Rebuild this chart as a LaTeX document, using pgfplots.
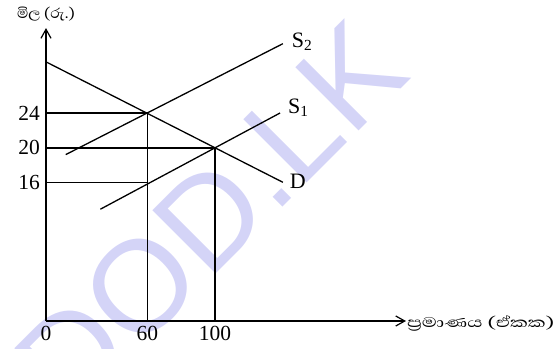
\documentclass[border=0pt]{standalone}
\usepackage{fontspec}
\setmainfont{Liberation Serif}
\newfontfamily\sinhala[Script=Sinhala]{Abhaya Libre}
\newfontfamily\wmfont{Liberation Sans}
\usepackage{pgfplots}
\pgfplotsset{compat=1.18}
\usetikzlibrary{arrows.meta}
\definecolor{wmblue}{RGB}{212,212,247}
\begin{document}
\begin{tikzpicture}
  % watermark behind everything
  \node[anchor=base west, rotate=45, inner sep=0pt, text=wmblue,
        font=\wmfont\fontsize{130bp}{130bp}\selectfont] at (24bp,-99bp) {DOD.LK};
  \begin{axis}[
      at={(0,0)}, anchor=origin,
      x=1.69bp, y=8.667bp,
      xmin=0, xmax=213,
      ymin=0, ymax=33.8,
      axis lines=left,
      axis line style={line width=1.2bp},
      every outer x axis line/.append style={-{Straight Barb[length=9bp,width=10bp,line width=1.2bp]}},
      every outer y axis line/.append style={-{Straight Barb[length=9bp,width=10bp,line width=1.2bp]}},
      xtick={0,60,100}, ytick={16,20,24},
      major tick length=0pt,
      /pgf/number format/assume math mode=true,
      tick label style={font=\fontsize{21.5bp}{24bp}\selectfont},
      xticklabel style={inner sep=0pt, yshift=-5bp},
      yticklabel style={inner sep=0pt, xshift=-6bp},
      clip=false,
    ]
    % guide lines
    \addplot[black, line width=1.2bp] coordinates {(0,24) (60,24)};
    \addplot[black, line width=1.2bp] coordinates {(60,0) (60,24)};
    \addplot[black, line width=1.2bp] coordinates {(0,16) (60,16)};
    \addplot[black, line width=1.8bp] coordinates {(0,20) (100,20)};
    \addplot[black, line width=1.8bp] coordinates {(100,0) (100,20)};
    % demand
    \addplot[black, line width=1.3bp] coordinates {(0,29.9) (140.2,16.0)}
      node[pos=1, anchor=west, xshift=3bp, yshift=1bp, font=\fontsize{22bp}{24bp}\selectfont] {D};
    % supply S1
    \addplot[black, line width=1.3bp] coordinates {(32.2,12.9) (138.5,24.0)}
      node[pos=1, anchor=west, xshift=4bp, yshift=5bp, font=\fontsize{22bp}{24bp}\selectfont] {S\textsubscript{1}};
    % supply S2
    \addplot[black, line width=1.3bp] coordinates {(11.7,19.2) (140.2,32.0)}
      node[pos=1, anchor=west, xshift=5bp, yshift=2bp, font=\fontsize{22bp}{24bp}\selectfont] {S\textsubscript{2}};
    % axis labels
    \node[anchor=center, font=\sinhala\fontsize{18bp}{20bp}\selectfont] at ([yshift=14bp]axis cs:0,33.8) {\scalebox{1.05}[1]{මිල (රු.)}};
    \node[anchor=west, inner sep=0pt, font=\sinhala\fontsize{18bp}{20bp}\selectfont] at ([xshift=1bp,yshift=-2bp]axis cs:213,0) {\scalebox{1.4}[1]{ප්‍රමාණය (ඒකක)}};
  \end{axis}
  \pgfresetboundingbox
  \path (-46bp,-28bp) rectangle (511bp,321bp);
\end{tikzpicture}
\end{document}
